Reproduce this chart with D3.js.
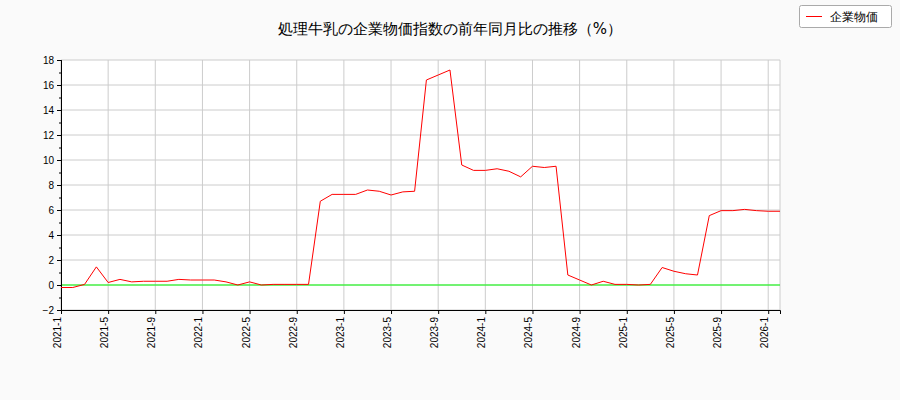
<!DOCTYPE html><html><head><meta charset="utf-8"><script src="https://cdn.jsdelivr.net/npm/d3@7"></script>
<style>body{margin:0;background:#fafafa}svg{font-family:"DejaVu Sans",sans-serif}</style></head><body><svg id="c" width="900" height="400"></svg><script>
const title="処理牛乳の企業物価指数の前年同月比の推移（%）";
const seriesName="企業物価";
const startYear=2021,startMonth=1;
const values=[-0.2,-0.2,0.05,1.45,0.2,0.45,0.25,0.3,0.3,0.3,0.45,0.4,0.4,0.4,0.25,0.0,0.25,0.0,0.05,0.05,0.05,0.05,6.7,7.25,7.25,7.25,7.6,7.5,7.2,7.45,7.5,16.4,16.8,17.2,9.6,9.17,9.17,9.3,9.1,8.65,9.5,9.4,9.5,0.8,0.4,0.0,0.3,0.05,0.05,0.0,0.05,1.4,1.1,0.9,0.8,5.55,5.95,5.95,6.05,5.95,5.9,5.9];
const yTicks=[-2,0,2,4,6,8,10,12,14,16,18];
const svg=d3.select("#c");
const L=61,R=780,T=60,B=310;
const x=d3.scaleLinear().domain([0,values.length-1]).range([L,R]);
const y=d3.scaleLinear().domain([-2,18]).range([B,T]);
svg.append("rect").attr("x",L).attr("y",T).attr("width",R-L).attr("height",B-T).attr("fill","#fff");
const xt=d3.range(0,values.length,4);
const lab=i=>{const m=startMonth-1+i;return (startYear+Math.floor(m/12))+"-"+(m%12+1);};
svg.append("g").selectAll("line").data(xt).join("line").attr("x1",d=>x(d)).attr("x2",d=>x(d)).attr("y1",T).attr("y2",B).attr("stroke","#ccc");
svg.append("g").selectAll("line").data(yTicks).join("line").attr("x1",L).attr("x2",R).attr("y1",d=>y(d)).attr("y2",d=>y(d)).attr("stroke","#ccc");
svg.append("line").attr("x1",R).attr("x2",R).attr("y1",T).attr("y2",B).attr("stroke","#ccc");
svg.append("line").attr("x1",L).attr("x2",R).attr("y1",y(0)).attr("y2",y(0)).attr("stroke","#00ff00");
const ya=svg.append("g").attr("transform",`translate(${L},0)`).call(d3.axisLeft(y).tickValues(yTicks).tickSize(4).tickFormat(d3.format("d")));
svg.append("g").attr("transform",`translate(${L},0)`).call(d3.axisLeft(y).tickValues(d3.range(-1,18,2)).tickSize(2).tickFormat(""));
const xa=svg.append("g").attr("transform",`translate(0,${B})`).call(d3.axisBottom(x).tickValues(xt).tickSize(4).tickFormat(lab));
xa.selectAll("text").attr("transform","rotate(-90)").attr("text-anchor","end").attr("x",-7).attr("y",-4).attr("dy","0.35em");
[ya,xa].forEach(a=>{a.selectAll("text").attr("font-size",10).attr("fill","#000");a.select(".domain").attr("stroke","#000");});
svg.append("path").datum(values).attr("fill","none").attr("stroke","#f00").attr("stroke-width",1)
 .attr("d",d3.line().x((d,i)=>x(i)).y(d=>y(d)));
svg.append("text").attr("x",450).attr("y",34).attr("text-anchor","middle").attr("font-size",15).text(title);
const lg=svg.append("g");
lg.append("rect").attr("x",799.5).attr("y",5.5).attr("width",92).attr("height",22).attr("fill","#fff").attr("stroke","#aaa").attr("rx",2);
lg.append("line").attr("x1",806).attr("x2",822).attr("y1",16.5).attr("y2",16.5).attr("stroke","#f00");
lg.append("text").attr("x",830).attr("y",21).attr("font-size",12).text(seriesName);
</script></body></html>
